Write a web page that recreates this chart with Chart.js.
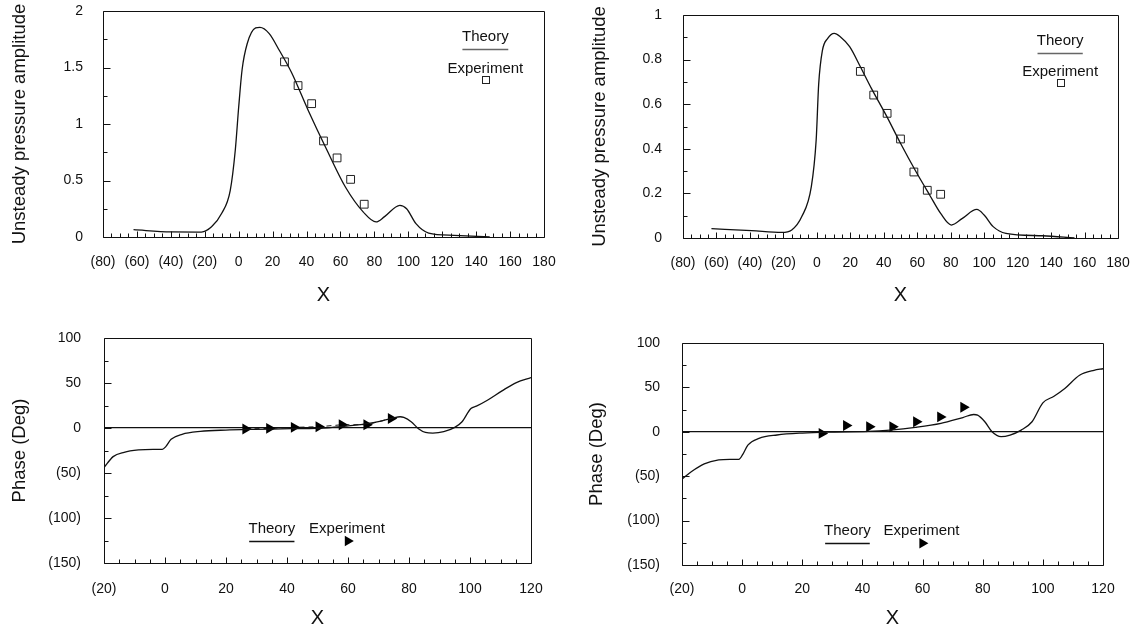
<!DOCTYPE html>
<html><head><meta charset="utf-8">
<script src="https://cdn.jsdelivr.net/npm/chart.js@4/dist/chart.umd.min.js"></script>
<style>
html,body{margin:0;padding:0;background:#fff;overflow:hidden;width:1138px;height:629px;position:relative;}
.box{position:absolute;}
canvas{display:block;}
</style></head><body>
<div class="box" style="left:0;top:0"><canvas id="c1" width="569" height="314"></canvas></div>
<div class="box" style="left:569px;top:0"><canvas id="c2" width="569" height="314"></canvas></div>
<div class="box" style="left:0;top:318px"><canvas id="c3" width="569" height="320"></canvas></div>
<div class="box" style="left:569px;top:318px"><canvas id="c4" width="569" height="320"></canvas></div>
<script>
// ---------- Data ----------
// Tick values
const ampXTicks = [-80,-60,-40,-20,0,20,40,60,80,100,120,140,160,180];
const amp1YTicks = [0,0.5,1,1.5,2];
const amp2YTicks = [0,0.2,0.4,0.6,0.8,1];
const phaseXTicks = [-20,0,20,40,60,80,100,120];
const phaseYTicks = [-150,-100,-50,0,50,100];

// Top-left: unsteady pressure amplitude (case 1)
const amp1TheoryX = [-62,-40,-22,-16,-10,-5,-2,0,2,5,10,12.5,18,24,31,41,52,63,73.5,81,86,95,99,104.5,112,127,148];
const amp1TheoryY = [0.065,0.045,0.044,0.09,0.21,0.41,0.77,1.15,1.48,1.71,1.85,1.855,1.80,1.65,1.46,1.12,0.77,0.44,0.22,0.133,0.18,0.28,0.25,0.118,0.035,0.015,0.0];
const amp1ExpX = [27,35,43,50,58,66,74];
const amp1ExpY = [1.55,1.34,1.18,0.85,0.70,0.51,0.29];

// Top-right: unsteady pressure amplitude (case 2)
const amp2TheoryX = [-63,-39,-21,-15,-9,-3.3,-0.4,1.1,3.3,6.5,10.4,14,19.6,26,32.6,41.3,50,58.7,67.4,74,80.4,87,95.6,100,105.4,113,135,154];
const amp2TheoryY = [0.042,0.033,0.025,0.036,0.096,0.23,0.44,0.69,0.84,0.895,0.918,0.903,0.858,0.768,0.671,0.552,0.425,0.305,0.193,0.11,0.058,0.088,0.128,0.103,0.051,0.021,0.01,0.0];
const amp2ExpX = [26,34,42,50,58,66,74];
const amp2ExpY = [0.747,0.641,0.559,0.444,0.296,0.214,0.196];

// Bottom-left: phase (case 1)
const phase1TheoryX = [-20,-17,-13.4,-8.7,-3.9,-0.9,0.25,2,5.6,11.6,19.9,29.4,41.3,53.3,59.2,65.2,71.2,74.7,77.1,78.3,80.7,83.1,85.4,87.8,91.4,95,97.4,100.3,102.1,105.7,110.5,115.2,120];
const phase1TheoryY = [-44,-31.8,-27,-24.4,-23.7,-23.7,-20.7,-12.6,-7,-3.8,-2.3,-1.5,-0.8,0.3,2.1,4.4,8,11,12.5,11.7,7,-0.8,-4.9,-5.6,-4.1,0.7,7,21.7,24.3,30.9,41.3,50.5,56];
const phase1ExpX = [26.4,34.2,42.3,50.4,58,66.1,74.1];
const phase1ExpY = [-1.2,-0.4,0.7,1.4,3.6,3.6,10.6];

// Bottom-right: phase (case 2)
const phase2TheoryX = [-20,-16.8,-12.6,-7.8,-4.1,-1.1,0.1,1.9,5.6,11.6,20.1,29.8,41.9,49.2,57.6,66.1,73.4,77,78.3,80.7,83.1,86.1,89.1,92.8,96.4,100,103.7,107.3,112.2,117,120];
const phase2TheoryY = [-53.4,-44.8,-36.2,-31.7,-31,-31,-26.1,-15,-7.4,-3.6,-1.4,-0.3,0.4,1.9,4.9,9.4,16.1,19.5,18.8,11.3,0,-5.5,-3.7,1.9,11.3,32.6,40,48.7,63.7,69.3,71];
const phase2ExpX = [26.5,34.6,42.3,50,57.9,65.9,73.6];
const phase2ExpY = [-1.8,7.1,5.7,5.7,11.3,16.8,27.7];

// ---------- Helpers ----------
const FONT = "'Liberation Sans', Arial, Helvetica, sans-serif";
Chart.defaults.font.family = FONT;
Chart.defaults.color = '#111';

const pts = (xs, ys) => xs.map((x, i) => ({x, y: ys[i]}));
const fmt = v => { const n = Number(v.toFixed(3)); return n < 0 ? '(' + Math.abs(n) + ')' : String(n); };

const framePlugin = {
  id: 'frame',
  afterDraw(chart) {
    const o = chart.options.plugins.frame;
    const {ctx, chartArea: a, scales: {x, y}} = chart;
    ctx.save();
    ctx.strokeStyle = '#111';
    ctx.lineWidth = 1;
    const L = Math.round(a.left) + 0.5, R = Math.round(a.right) + 0.5;
    const T = Math.round(a.top) + 0.5, B = Math.round(a.bottom) + 0.5;
    ctx.beginPath();
    ctx.rect(L, T, R - L, B - T);
    ctx.stroke();
    // inward tick marks
    ctx.beginPath();
    const nx = Math.round((o.xMax - o.xMin) / o.xMinor);
    for (let i = 0; i <= nx; i++) {
      const v = o.xMin + i * o.xMinor;
      const major = Math.abs(v / o.xStep - Math.round(v / o.xStep)) < 1e-6;
      const px = Math.round(x.getPixelForValue(v)) + 0.5;
      ctx.moveTo(px, B); ctx.lineTo(px, B - (major ? 6 : 4));
    }
    const ny = Math.round((o.yMax - o.yMin) / o.yMinor);
    for (let i = 0; i <= ny; i++) {
      const v = o.yMin + i * o.yMinor;
      const major = Math.abs(v / o.yStep - Math.round(v / o.yStep)) < 1e-6;
      const py = Math.round(y.getPixelForValue(v)) + 0.5;
      ctx.moveTo(L, py); ctx.lineTo(L + (major ? 7 : 4), py);
    }
    ctx.stroke();
    // legend
    const lg = o.legend;
    const fx = f => a.left + f * (a.right - a.left);
    const fy = f => a.top + f * (a.bottom - a.top);
    ctx.fillStyle = '#111';
    ctx.font = '15px ' + FONT;
    ctx.textAlign = 'center';
    ctx.textBaseline = 'middle';
    ctx.fillText('Theory', fx(lg.theory[0]), fy(lg.theory[1]));
    ctx.fillText('Experiment', fx(lg.exp[0]), fy(lg.exp[1]));
    ctx.strokeStyle = lg.lineColor;
    ctx.lineWidth = 1.3;
    ctx.beginPath();
    ctx.moveTo(fx(lg.line[0]), Math.round(fy(lg.line[2])) + 0.5);
    ctx.lineTo(fx(lg.line[1]), Math.round(fy(lg.line[2])) + 0.5);
    ctx.stroke();
    const mx = fx(lg.marker[0]), my = fy(lg.marker[1]);
    if (lg.markerType === 'square') {
      ctx.strokeStyle = '#222'; ctx.lineWidth = 1;
      ctx.strokeRect(Math.round(mx - 3.5) + 0.5, Math.round(my - 3.5) + 0.5, 7, 7);
    } else {
      ctx.fillStyle = '#000';
      ctx.beginPath();
      ctx.moveTo(mx + 6, my); ctx.lineTo(mx - 3, my - 5.2); ctx.lineTo(mx - 3, my + 5.2);
      ctx.closePath(); ctx.fill();
    }
    ctx.restore();
  }
};

const CLEAR = 'rgba(0,0,0,0)';

function makeChart(id, c) {
  const datasets = [
    {
      data: pts(c.tx, c.ty), borderColor: '#111', borderWidth: 1.3,
      pointRadius: 0, cubicInterpolationMode: 'monotone', showLine: true, fill: false
    },
    c.expStyle === 'square' ? {
      data: pts(c.ex, c.ey), showLine: false, pointStyle: 'rect', pointRadius: 5.5,
      pointBorderColor: '#222', pointBackgroundColor: '#fff', pointBorderWidth: 1
    } : {
      data: pts(c.ex, c.ey), showLine: !!c.expLine, borderColor: '#111', borderWidth: 1,
      borderDash: [5, 4], pointStyle: 'triangle', pointRotation: 90, pointRadius: 6.3,
      pointBorderColor: '#000', pointBackgroundColor: '#000', pointBorderWidth: 0
    }
  ];
  return new Chart(document.getElementById(id), {
    type: 'scatter',
    data: {datasets},
    plugins: [framePlugin],
    options: {
      responsive: false, animation: false, devicePixelRatio: 1,
      layout: {padding: {top: c.padTop, right: c.padRight, left: 0, bottom: 0}},
      plugins: {
        legend: {display: false}, tooltip: {enabled: false},
        frame: {
          xMin: c.xMin, xMax: c.xMax, xStep: c.xStep, xMinor: c.xMinor,
          yMin: c.yMin, yMax: c.yMax, yStep: c.yStep, yMinor: c.yMinor,
          legend: c.legend
        }
      },
      scales: {
        x: {
          type: 'linear', min: c.xMin, max: c.xMax,
          afterBuildTicks: s => { s.ticks = c.xTicks.map(v => ({value: v})); },
          afterFit: s => { s.height = c.xHeight; },
          grid: {display: true, drawOnChartArea: false, drawTicks: true, tickLength: c.xTickPad, color: CLEAR, tickColor: CLEAR},
          border: {display: false},
          ticks: {callback: fmt, padding: 0, font: {size: 14}, color: '#111', maxRotation: 0, autoSkip: false},
          title: {display: true, text: 'X', font: {size: 20}, color: '#111', padding: {top: 0, bottom: c.xTitlePad}}
        },
        y: {
          type: 'linear', min: c.yMin, max: c.yMax,
          afterBuildTicks: s => { s.ticks = c.yTicks.map(v => ({value: v})); },
          afterFit: s => { s.width = c.yWidth; },
          grid: {
            display: true, drawTicks: true, tickLength: c.yTickPad, tickColor: CLEAR, lineWidth: 1.2,
            color: ctx => (c.zeroLine && ctx.tick && ctx.tick.value === 0) ? '#111' : CLEAR
          },
          border: {display: false},
          ticks: {callback: fmt, padding: 0, font: {size: 14}, color: '#111', autoSkip: false},
          title: {display: true, text: c.yTitle, font: {size: 18.5}, color: '#111', padding: {top: c.yTitlePad, bottom: 0}}
        }
      }
    }
  });
}

const topLegend = {theory: [0.867, 0.116], exp: [0.867, 0.254], line: [0.815, 0.919, 0.169], marker: [0.867, 0.303], markerType: 'square', lineColor: '#666'};
const botLegend = {theory: [0.393, 0.848], exp: [0.569, 0.848], line: [0.340, 0.446, 0.902], marker: [0.571, 0.902], markerType: 'triangle', lineColor: '#111'};

makeChart('c1', {
  tx: amp1TheoryX, ty: amp1TheoryY, ex: amp1ExpX, ey: amp1ExpY, expStyle: 'square',
  xMin: -80, xMax: 180, xStep: 20, xMinor: 5, xTicks: ampXTicks,
  yMin: 0, yMax: 2, yStep: 0.5, yMinor: 0.25, yTicks: amp1YTicks,
  yTitle: 'Unsteady pressure amplitude',
  padTop: 11, padRight: 25, yWidth: 103, xHeight: 77,
  yTitlePad: 9, yTickPad: 20, xTickPad: 17, xTitlePad: 7, legend: topLegend
});
makeChart('c2', {
  tx: amp2TheoryX, ty: amp2TheoryY, ex: amp2ExpX, ey: amp2ExpY, expStyle: 'square',
  xMin: -80, xMax: 180, xStep: 20, xMinor: 5, xTicks: ampXTicks,
  yMin: 0, yMax: 1, yStep: 0.2, yMinor: 0.1, yTicks: amp2YTicks,
  yTitle: 'Unsteady pressure amplitude',
  padTop: 15, padRight: 20, yWidth: 114, xHeight: 76,
  yTitlePad: 20, yTickPad: 21, xTickPad: 17, xTitlePad: 7, legend: topLegend
});
makeChart('c3', {
  tx: phase1TheoryX, ty: phase1TheoryY, ex: phase1ExpX, ey: phase1ExpY, expStyle: 'triangle', expLine: true,
  xMin: -20, xMax: 120, xStep: 20, xMinor: 5, xTicks: phaseXTicks,
  yMin: -150, yMax: 100, yStep: 50, yMinor: 25, yTicks: phaseYTicks, zeroLine: true,
  yTitle: 'Phase (Deg)',
  padTop: 20, padRight: 38, yWidth: 104, xHeight: 75,
  yTitlePad: 9, yTickPad: 23, xTickPad: 18, xTitlePad: 8, legend: botLegend
});
makeChart('c4', {
  tx: phase2TheoryX, ty: phase2TheoryY, ex: phase2ExpX, ey: phase2ExpY, expStyle: 'triangle', expLine: false,
  xMin: -20, xMax: 120, xStep: 20, xMinor: 5, xTicks: phaseXTicks,
  yMin: -150, yMax: 100, yStep: 50, yMinor: 25, yTicks: phaseYTicks, zeroLine: true,
  yTitle: 'Phase (Deg)',
  padTop: 25, padRight: 35, yWidth: 113, xHeight: 73,
  yTitlePad: 17, yTickPad: 22, xTickPad: 16, xTitlePad: 8, legend: botLegend
});
</script>
</body></html>
